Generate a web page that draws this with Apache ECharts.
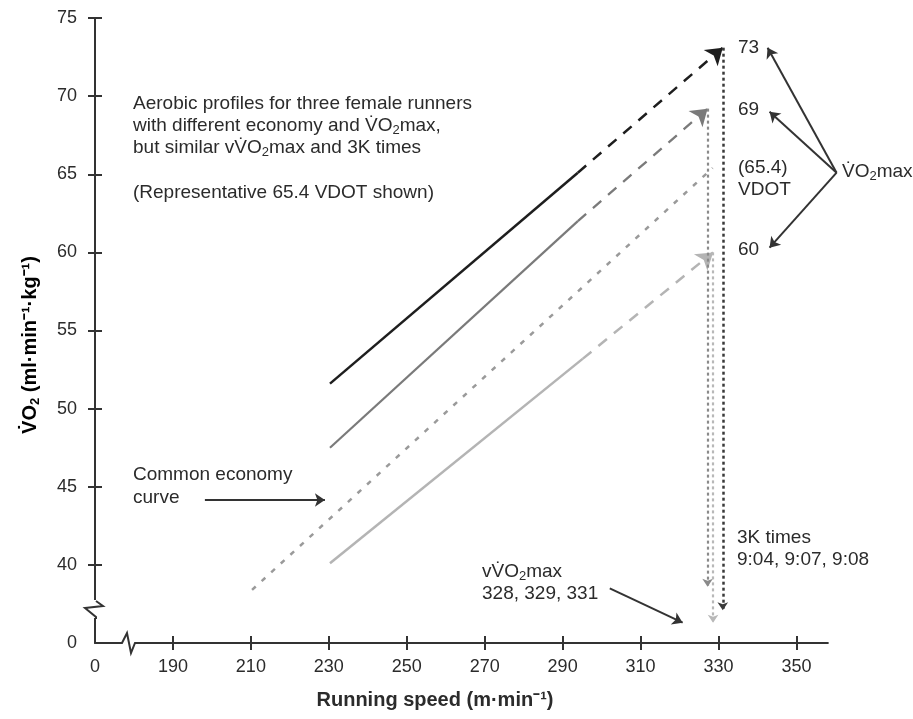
<!DOCTYPE html>
<html>
<head>
<meta charset="utf-8">
<script src="https://cdn.jsdelivr.net/npm/echarts@6/dist/echarts.min.js"></script>
<style>
html,body{margin:0;padding:0;background:#fff;}
#chart{width:913px;height:719px;}
</style>
</head>
<body>
<div id="chart"></div>
<script>
// ---------- data ----------
const xMin = 170, xMax = 364;          // 170 is drawn as the broken "0"; axis line drawn to 358
const xAxisEnd = 358;
const yMin = 35, yMax = 75;            // 35 is drawn as the broken "0"
const xTickValues = [190, 210, 230, 250, 270, 290, 310, 330, 350];
const xLabelValues = [170, 190, 210, 230, 250, 270, 290, 310, 330, 350];
const yTickValues = [40, 45, 50, 55, 60, 65, 70, 75];
const yLabelValues = [35, 40, 45, 50, 55, 60, 65, 70, 75];

const blackSolid = [[230.3, 51.6], [293.9, 65.1]];
const blackDashed = [[293.9, 65.1], [331.1, 73.1]];
const graySolid = [[230.3, 47.5], [293.9, 62.0]];
const grayDashed = [[293.9, 62.0], [327.2, 69.2]];
const lightSolid = [[230.3, 40.1], [295.2, 53.2]];
const lightDashed = [[295.2, 53.2], [328.6, 60.0]];
const commonCurve = [[210.3, 38.4], [328.5, 65.4]];
const blackDrop = [[331.1, 73.1], [331.1, 37.1]];
const grayDrop = [[327.2, 69.2], [327.2, 38.6]];
const lightDrop = [[328.6, 60.0], [328.6, 36.3]];

const economyArrow = [[198.2, 44.15], [229.0, 44.15]];
const vvo2Arrow = [[302.1, 38.5], [320.8, 36.3]];
const vo2maxArrows = [
  [[360.3, 65.1], [342.6, 73.1]],
  [[360.3, 65.1], [343.1, 69.0]],
  [[360.3, 65.1], [343.1, 60.3]]
];

// ---------- styles ----------
const FONT = "'Liberation Sans', Arial, Helvetica, sans-serif";
const TXT = '#2b2b2b';
const AX = '#333';
const BLACK = '#1e1e1e', GRAY = '#7a7a7a', LIGHT = '#b4b4b4', COMMON = '#9a9a9a';

const chart = echarts.init(document.getElementById('chart'), null, {renderer: 'canvas'});

function seg(pair, style) {
  return [{coord: pair[0], lineStyle: style, itemStyle: {color: style.color}}, {coord: pair[1], itemStyle: {color: style.color}}];
}
function arrowSeries(segs, symbolSize) {
  return {
    type: 'line', data: [], clip: false, silent: true, animation: false,
    markLine: {
      silent: true, animation: false,
      symbol: ['none', 'arrow'], symbolSize: symbolSize,
      label: {show: false},
      data: segs
    }
  };
}
function solidLine(data, color, width) {
  return {type: 'line', data: data, symbol: 'none', silent: true, clip: false,
    lineStyle: {color: color, width: width}, animation: false};
}

const rich = {
  n: {fontSize: 19, fontFamily: FONT, color: TXT},
  s: {fontSize: 13, fontFamily: FONT, color: TXT, padding: [9, 0, 0, 0]},
  b: {fontSize: 20, fontFamily: FONT, color: TXT, fontWeight: 'bold'},
  bs: {fontSize: 13, fontFamily: FONT, color: TXT, fontWeight: 'bold', padding: [10, 0, 0, 0]}
};
function txt(x, y, text, align) {
  return {
    type: 'text', x: x, y: y, silent: true, z: 110,
    style: {text: text, rich: rich, fill: TXT, verticalAlign: 'middle', align: align || 'left'}
  };
}

const axisCommon = {type: 'value', splitLine: {show: false}};

const option = {
  animation: false,
  backgroundColor: '#fff',
  grid: {left: 95, right: 62, top: 18, bottom: 76, containLabel: false},
  xAxis: [
    Object.assign({}, axisCommon, {
      min: xMin, max: xMax, position: 'bottom',
      axisLine: {show: true, onZero: false, lineStyle: {color: AX, width: 2}},
      axisTick: {show: true, length: 7, customValues: xTickValues, lineStyle: {color: AX, width: 2}},
      axisLabel: {show: true, customValues: xLabelValues, margin: 15, fontSize: 18, fontFamily: FONT, color: TXT,
        formatter: v => v === xMin ? '0' : String(v)}
    }),
    Object.assign({}, axisCommon, {
      min: xMin, max: xMax, position: 'bottom',
      axisLine: {show: false},
      axisTick: {show: true, inside: true, length: 7, customValues: xTickValues, lineStyle: {color: AX, width: 2}},
      axisLabel: {show: false}
    })
  ],
  yAxis: [
    Object.assign({}, axisCommon, {
      min: yMin, max: yMax, interval: 5, position: 'left',
      axisLine: {show: true, onZero: false, lineStyle: {color: AX, width: 2}},
      axisTick: {show: true, length: 7, customValues: yTickValues, lineStyle: {color: AX, width: 2}},
      axisLabel: {show: true, customValues: yLabelValues, margin: 18, fontSize: 18, fontFamily: FONT, color: TXT,
        formatter: v => v === yMin ? '0' : String(v)}
    }),
    Object.assign({}, axisCommon, {
      min: yMin, max: yMax, interval: 5, position: 'left',
      axisLine: {show: false},
      axisTick: {show: true, inside: true, length: 7, customValues: yTickValues, lineStyle: {color: AX, width: 2}},
      axisLabel: {show: false}
    })
  ],
  series: [
    solidLine(blackSolid, BLACK, 2.5),
    solidLine(graySolid, GRAY, 2.2),
    solidLine(lightSolid, LIGHT, 2.5),
    {type: 'line', data: commonCurve, symbol: 'none', silent: true, clip: false, animation: false,
      lineStyle: {color: COMMON, width: 2.5, type: [5, 8]}},
    arrowSeries([
      seg(blackDashed, {color: BLACK, width: 2.5, type: [11, 9]}),
      seg(grayDashed, {color: GRAY, width: 2.3, type: [11, 9]}),
      seg(lightDashed, {color: LIGHT, width: 2.5, type: [11, 9]})
    ], 16),
    arrowSeries([
      seg(blackDrop, {color: '#3a3a3a', width: 2.5, type: [3, 3]}),
      seg(grayDrop, {color: '#8a8a8a', width: 2.2, type: [3, 3]}),
      seg(lightDrop, {color: '#b8b8b8', width: 2.2, type: [3, 3]})
    ], 8),
    arrowSeries([
      seg(economyArrow, {color: AX, width: 2, type: 'solid'}),
      seg(vvo2Arrow, {color: AX, width: 2, type: 'solid'}),
      seg(vo2maxArrows[0], {color: AX, width: 2, type: 'solid'}),
      seg(vo2maxArrows[1], {color: AX, width: 2, type: 'solid'}),
      seg(vo2maxArrows[2], {color: AX, width: 2, type: 'solid'})
    ], 10)
  ]
};
chart.setOption(option);

// overlay: axis breaks and annotation texts (pixel layout)
const axisEndPx = chart.convertToPixel({xAxisIndex: 0}, xAxisEnd);
chart.setOption({
  graphic: [
    {type: 'rect', shape: {x: axisEndPx + 1, y: 638, width: 60, height: 10}, style: {fill: '#fff'}, silent: true, z: 100},
    {type: 'rect', shape: {x: 82, y: 600, width: 28, height: 18}, style: {fill: '#fff'}, silent: true, z: 100},
    {type: 'polyline', shape: {points: [[96, 601], [103, 606], [85, 608], [96, 617], [96, 619]]},
      style: {stroke: AX, lineWidth: 2, fill: null}, silent: true, z: 101},
    {type: 'rect', shape: {x: 120, y: 628, width: 17, height: 28}, style: {fill: '#fff'}, silent: true, z: 100},
    {type: 'polyline', shape: {points: [[119, 643], [122, 643], [127, 633], [131, 653], [135, 643], [138, 643]]},
      style: {stroke: AX, lineWidth: 2, fill: null}, silent: true, z: 101},

    txt(133, 104, '{n|Aerobic profiles for three female runners}'),
    txt(133, 126, '{n|with different economy and V\u0307O}{s|2}{n|max,}'),
    txt(133, 148, '{n|but similar vV\u0307O}{s|2}{n|max and 3K times}'),
    txt(133, 193, '{n|(Representative 65.4 VDOT shown)}'),
    txt(133, 475, '{n|Common economy}'),
    txt(133, 498, '{n|curve}'),
    txt(482, 572, '{n|vV\u0307O}{s|2}{n|max}'),
    txt(482, 594, '{n|328, 329, 331}'),
    txt(737, 538, '{n|3K times}'),
    txt(737, 560, '{n|9:04, 9:07, 9:08}'),
    txt(738, 48, '{n|73}'),
    txt(738, 110, '{n|69}'),
    txt(738, 168, '{n|(65.4)}'),
    txt(738, 190, '{n|VDOT}'),
    txt(738, 250, '{n|60}'),
    txt(842, 172, '{n|V\u0307O}{s|2}{n|max}'),
    txt(435, 700, '{b|Running speed (m\u00b7min\u207b\u00b9)}', 'center'),
    {type: 'text', x: 30, y: 345, rotation: Math.PI / 2, silent: true, z: 110,
      style: {text: '{b|V\u0307O}{bs|2}{b| (ml\u00b7min\u207b\u00b9\u00b7kg\u207b\u00b9)}', rich: rich, align: 'center', verticalAlign: 'middle'}}
  ]
});
</script>
</body>
</html>
